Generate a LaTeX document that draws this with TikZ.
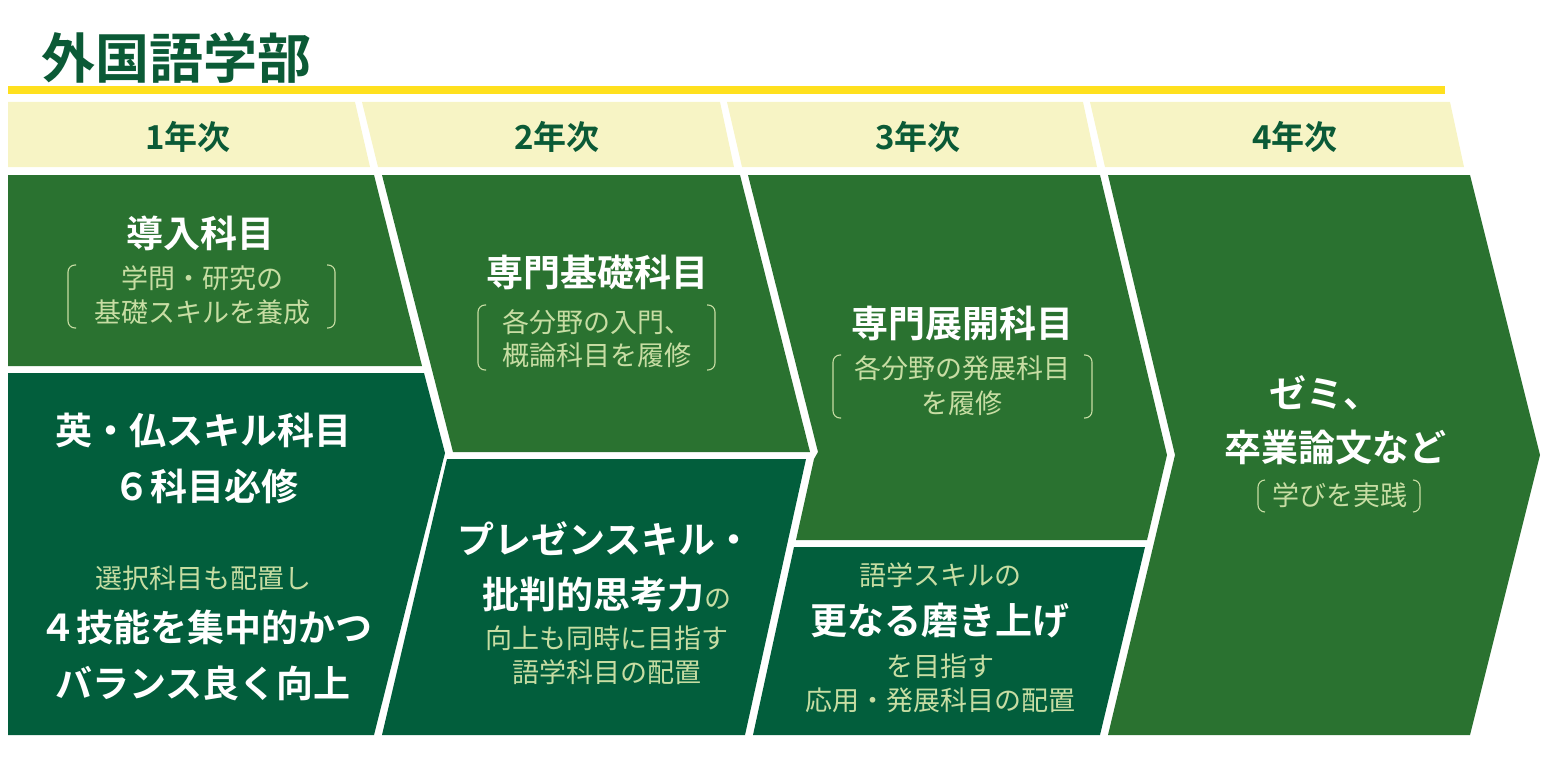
\documentclass[tikz,border=0pt]{standalone}
\usepackage{fontspec}
\setmainfont{Noto Sans CJK JP}[BoldFont={Noto Sans CJK JP Bold}]
\definecolor{lg}{HTML}{2A7230}
\definecolor{dg}{HTML}{025E3C}
\definecolor{hb}{HTML}{F7F4C5}
\definecolor{tg}{HTML}{0B5A36}
\definecolor{yl}{HTML}{FFE01E}
\definecolor{pl}{HTML}{C7DDA3}
\tikzset{
  big/.style={text=white,font=\bfseries\fontsize{37}{40}\selectfont,inner sep=0pt},
  sm/.style={text=pl,font=\fontsize{27}{30}\selectfont,inner sep=0pt},
  hd/.style={text=tg,font=\bfseries\fontsize{33}{36}\selectfont,inner sep=0pt},
  brk/.style={draw=pl,line width=1.1pt,rounded corners=7pt},
}
\begin{document}
\begin{tikzpicture}[x=1pt,y=-1pt]
\useasboundingbox (0,0) rectangle (1552,765);
% title
\node[text=tg,font=\bfseries\fontsize{54}{56}\selectfont,inner sep=0pt] (title) at (176,58) {外国語学部};
\coordinate (yl1) at (8,90); \coordinate (yl2) at (1445,90);
\draw[yl,line width=8pt] (yl1) -- (yl2);
% headers
\fill[hb] (8,102) -- (355,102) -- (370,167) -- (8,167) -- cycle;
\fill[hb] (362,102) -- (720,102) -- (734,167) -- (378,167) -- cycle;
\fill[hb] (727,102) -- (1083,102) -- (1097,167) -- (742,167) -- cycle;
\fill[hb] (1090,102) -- (1450,102) -- (1464,167) -- (1105,167) -- cycle;
\node[hd] (h1) at (188,137) {1年次};
\node[hd] (h2) at (557,137) {2年次};
\node[hd] (h3) at (918,137) {3年次};
\node[hd] (h4) at (1295,137) {4年次};
% main shapes
\fill[lg] (8,175) -- (374,175) -- (422,366) -- (8,366) -- cycle;
\fill[dg] (8,373) -- (424,373) -- (445,453) -- (374,735) -- (8,735) -- cycle;
\fill[lg] (382,175) -- (740,175) -- (810,452) -- (453,452) -- (432,370) -- cycle;
\fill[dg] (447,459) -- (806,459) -- (745,735) -- (382,735) -- cycle;
\fill[lg] (748,175) -- (1100,175) -- (1167,455) -- (1147,540) -- (796,540) -- (814,459) -- (818,452) -- cycle;
\fill[dg] (794,547) -- (1145,547) -- (1100,735) -- (753,735) -- cycle;
\fill[lg] (1108,175) -- (1470,175) -- (1540,455) -- (1470,735) -- (1108,735) -- (1175,455) -- cycle;
% col1 top
\node[big] (a1) at (200,233) {導入科目};
\node[sm] (a2) at (202,278) {学問・研究の};
\node[sm] (a3) at (202,312) {基礎スキルを養成};
\draw[brk] (76,265) -- (68,265) -- (68,328) -- (76,328);
\draw[brk] (327,265) -- (335,265) -- (335,328) -- (327,328);
% col1 bottom
\node[big] (b1) at (203,430) {英・仏スキル科目};
\node[big] (b2) at (206,486) {６科目必修};
\node[sm] (b3) at (203,578) {選択科目も配置し};
\node[big] (b4) at (206,627) {４技能を集中的かつ};
\node[big] (b5) at (203,683) {バランス良く向上};
% col2 top
\node[big] (c1) at (597,272) {専門基礎科目};
\node[sm] (c2) at (597,322) {各分野の入門、};
\node[sm] (c3) at (597,355) {概論科目を履修};
\draw[brk] (486,305) -- (478,305) -- (478,370) -- (486,370);
\draw[brk] (707,305) -- (715,305) -- (715,370) -- (707,370);
% col2 bottom
\node[big] (d1) at (605,539) {プレゼンスキル・};
\node[big] (d2) at (607,595) {批判的思考力{\mdseries\color{pl}\fontsize{27}{30}\selectfont の}};
\node[sm] (d3) at (607,638) {向上も同時に目指す};
\node[sm] (d4) at (607,672) {語学科目の配置};
% col3 top
\node[big] (e1) at (962,323) {専門展開科目};
\node[sm] (e2) at (962,368) {各分野の発展科目};
\node[sm] (e3) at (962,403) {を履修};
\draw[brk] (841,355) -- (833,355) -- (833,418) -- (841,418);
\draw[brk] (1084,355) -- (1092,355) -- (1092,418) -- (1084,418);
% col3 bottom
\node[sm] (f1) at (940,575) {語学スキルの};
\node[big] (f2) at (940,621) {更なる磨き上げ};
\node[sm] (f3) at (940,666) {を目指す};
\node[sm] (f4) at (940,700) {応用・発展科目の配置};
% col4
\node[big] (g1) at (1325,393) {ゼミ、};
\node[big] (g2) at (1335,447) {卒業論文など};
\node[sm] (g3) at (1340,495) {学びを実践};
\draw[brk] (1265,480) -- (1258,480) -- (1258,512) -- (1265,512);
\draw[brk] (1413,480) -- (1420,480) -- (1420,512) -- (1413,512);
\end{tikzpicture}
\end{document}
